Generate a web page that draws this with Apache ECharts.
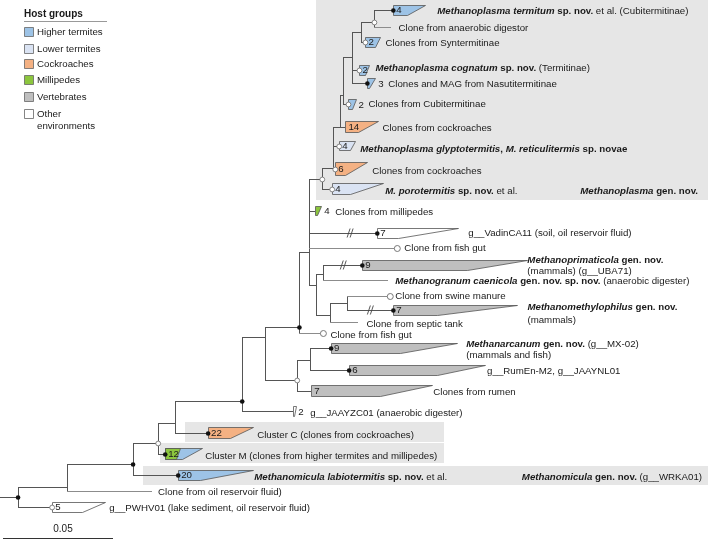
<!DOCTYPE html>
<html><head><meta charset="utf-8">
<script src="https://cdn.jsdelivr.net/npm/echarts@6/dist/echarts.min.js"></script>
<style>html,body{margin:0;padding:0;background:#fff}#c{width:708px;height:541px}</style>
</head><body><div id="c"></div>
<script>
// ================= DATA =================
const hostGroups = ['Higher termites','Lower termites','Cockroaches','Millipedes','Vertebrates','Other\nenvironments'];

// tree nodes: [id, parent, branch length (subst./site), tip-order position]
const treeNodes = [
 ['R', null, 0.0082, 497],
 ['PW','R',0.0155,507],
 ['N1','R',0.0223,487],
 ['oil','N1',0.0386,491],
 ['N2','N1',0.0300,464],
 ['N3','N2',0.0114,443],
 ['MMic','N2',0.0205,475],
 ['N4','N3',0.0077,423],
 ['CM','N3',0.0032,453.5],
 ['N5','N4',0.0305,401],
 ['CC','N4',0.0150,432.5],
 ['N6','N5',0.0105,337],
 ['JZ','N5',0.0232,411],
 ['N7','N6',0.0155,327],
 ['N13','N6',0.0145,380],
 ['N8','N7',0.0045,252],
 ['fish2','N7',0.0109,333],
 ['N14','N13',0.0059,360],
 ['rumen','N13',0.0064,390.5],
 ['Marc','N14',0.0095,348],
 ['RumEn','N14',0.0177,370],
 ['crown','N8',0.0059,179],
 ['mill','N8',0.0027,210.5],
 ['Vadin','N8',0.0309,233],
 ['fish1','N8',0.0400,248],
 ['N9','N8',0.0032,285],
 ['N10','N9',0.0032,274],
 ['N11','N9',0.0064,315],
 ['Mprim','N10',0.0177,265],
 ['Mgran','N10',0.0295,280],
 ['N12','N11',0.0077,303],
 ['septic','N11',0.0127,322],
 ['swine','N12',0.0195,296],
 ['Mmeth','N12',0.0209,310],
 ['E','crown',0.0050,168],
 ['poro','crown',0.0045,188.5],
 ['D','E',0.0032,127],
 ['glypto','E',0.0027,145.5],
 ['cock6','E',0.0009,168.5],
 ['C','D',0.0014,95],
 ['cock14','D',0.0023,126.5],
 ['A','C',0.0041,57],
 ['cubi','C',0.0023,104],
 ['B','A',0.0041,32],
 ['cogn','A',0.0032,70],
 ['nasu','A',0.0068,83],
 ['G','B',0.0059,22],
 ['synt','B',0.0018,42],
 ['term','G',0.0086,10],
 ['anaer','G',0.0073,27]
];

// collapsed clades: [id, host group indices, number of sequences, top pos, bottom pos, longest, shortest]
const collapsed = [
 ['term',[0],4,5,15,0.0145,0.0064],
 ['synt',[0],2,37,47,0.0068,0.0045],
 ['cogn',[0],2,65,75,0.0045,0.0027],
 ['nasu',[0],3,78,88,0.0036,0.0009],
 ['cubi',[0],2,99,109,0.0036,0.0018],
 ['cock14',[2],14,121,132,0.0150,0.0055],
 ['glypto',[1],4,141,150,0.0073,0.0050],
 ['cock6',[2],6,162,175,0.0145,0.0045],
 ['poro',[1],4,183,194,0.0232,0.0082],
 ['mill',[3],4,206,215,0.0027,0.0009],
 ['Vadin',[5],7,228,238,0.0368,0.0095],
 ['Mprim',[4],9,260,270,0.0750,0.0477],
 ['Mmeth',[4],7,305,315,0.0564,0.0200],
 ['Marc',[4],9,343,353,0.0573,0.0314],
 ['RumEn',[4],6,365,375,0.0618,0.0400],
 ['rumen',[4],7,385,396,0.0550,0.0314],
 ['JZ',[5],2,406,416,0.0014,0.0005],
 ['CC',[2],22,427,438,0.0205,0.0100],
 ['CM',[3,0],12,448,459,0.0168,0.0077],
 ['MMic',[0],20,470,480,0.0341,0.0100],
 ['PW',[5],5,502,512,0.0241,0.0136]
];

// node support: strongly supported (filled) and moderately supported (open)
const supportStrong = ['term','nasu','Vadin','Mprim','Mmeth','N7','Marc','RumEn','N5','CC','CM','N2','MMic','R'];
const supportModerate = ['G','synt','cogn','cubi','glypto','cock6','crown','poro','N13','N3','PW'];
const openTips = ['fish1','swine','fish2'];
// shortened branches: [id, fraction along branch]
const breaks = [['Vadin',0.6],['Mprim',0.51],['Mmeth',0.5]];

// tip labels
const tipLabels = [
 ['term','{bi|Methanoplasma termitum}{b| sp. nov.} et al. (Cubitermitinae)'],
 ['anaer','Clone from anaerobic digestor'],
 ['synt','Clones from Syntermitinae'],
 ['cogn','{bi|Methanoplasma cognatum}{b| sp. nov.} (Termitinae)'],
 ['nasu','Clones and MAG from Nasutitermitinae'],
 ['cubi','Clones from Cubitermitinae'],
 ['cock14','Clones from cockroaches'],
 ['glypto','{bi|Methanoplasma glyptotermitis}{b|, }{bi|M. reticulitermis}{b| sp. novae}'],
 ['cock6','Clones from cockroaches'],
 ['poro','{bi|M. porotermitis}{b| sp. nov.} et al.'],
 ['mill','Clones from millipedes'],
 ['Vadin','g__VadinCA11 (soil, oil reservoir fluid)'],
 ['fish1','Clone from fish gut'],
 ['Mprim','{bi|Methanoprimaticola}{b| gen. nov.}\n(mammals) (g__UBA71)'],
 ['Mgran','{bi|Methanogranum caenicola}{b| gen. nov. sp. nov.} (anaerobic digester)'],
 ['swine','Clone from swine manure'],
 ['Mmeth','{bi|Methanomethylophilus}{b| gen. nov.}\n(mammals)'],
 ['septic','Clone from septic tank'],
 ['fish2','Clone from fish gut'],
 ['Marc','{bi|Methanarcanum}{b| gen. nov.} (g__MX-02)\n(mammals and fish)'],
 ['RumEn','g__RumEn-M2, g__JAAYNL01'],
 ['rumen','Clones from rumen'],
 ['JZ','g__JAAYZC01 (anaerobic digester)'],
 ['CC','Cluster C (clones from cockroaches)'],
 ['CM','Cluster M (clones from higher termites and millipedes)'],
 ['MMic','{bi|Methanomicula labiotermitis}{b| sp. nov.} et al.'],
 ['oil','Clone from oil reservoir fluid)'],
 ['PW','g__PWHV01 (lake sediment, oil reservoir fluid)']
];
const genusLabels = [
 ['poro','{bi|Methanoplasma}{b| gen. nov.}'],
 ['MMic','{bi|Methanomicula}{b| gen. nov.} (g__WRKA01)']
];
const scaleBarLength = 0.05;

// ================= LAYOUT / STYLE =================
const hostColors = ['#9dc3e6','#dae3f3','#f4b183','#8cc63e','#bfbfbf','#ffffff'];
const FONT = '"Liberation Sans", Arial, Helvetica, sans-serif';
const FS = 9.7, TXT = '#1a1a1a';
const PXU = 2200; // px per subst./site unit
// label offsets in px: [dx from tip end, dy, lineHeight]
const labelOffset = {term:[12,1],anaer:[8,1],synt:[5,1],cogn:[6,-2],nasu:[13,1],cubi:[12,0],cock14:[4,1.5],
 glypto:[5,3.5],cock6:[5,2.5],poro:[2,2.5],mill:[14,1.5],Vadin:[10,0],fish1:[7,0],Mprim:[0,-5,11.5],Mgran:[7,1.5],
 swine:[5,0],Mmeth:[10,-2.5,13],septic:[8,2],fish2:[7,2],Marc:[9,-4,11.5],RumEn:[2,1],rumen:[1,1.5],JZ:[14,2],
 CC:[4,2.5],CM:[3,2.5],MMic:[1,2],oil:[6,1],PW:[4,1]};
const outsideCount = {nasu:3, cubi:2, mill:3, JZ:2};
const genusRight = {poro:[698,2.5], MMic:[702,2]};
const mixedSplit = {CM:[0.0068,0.0050]};
// grey clade boxes [x0, pos0, x1, pos1] in axis units
const boxes = [[0.1436,0,0.33,200],[0.0841,422,0.2018,442],[0.0727,443,0.2018,463],[0.0650,466,0.33,485]];

// ================= BUILD =================
const byId = {};
treeNodes.forEach(([id,parent,bl,pos])=>{ byId[id]={id,parent,bl,pos,children:[]}; });
treeNodes.forEach(([id,parent])=>{ if(parent) byId[parent].children.push(byId[id]); });
function cum(n){ if(n.x!==undefined) return n.x; n.x=(n.parent?cum(byId[n.parent]):0)+n.bl; return n.x; }
treeNodes.forEach(r=>cum(byId[r[0]]));
const colById = {}; collapsed.forEach(c=>colById[c[0]]={hosts:c[1],count:c[2],top:c[3],bot:c[4],lng:c[5],sht:c[6]});
function tipEnd(id){ const n=byId[id]; return n.x + (colById[id]?colById[id].lng:0); }

const S = v => Math.round(v)+0.5;
function richSt(lh){ return {
  bi:{fontStyle:'italic',fontWeight:'bold',fontSize:FS,fontFamily:FONT,fill:TXT,lineHeight:lh},
  b:{fontWeight:'bold',fontSize:FS,fontFamily:FONT,fill:TXT,lineHeight:lh}}; }
function txt(x,y,text,opt){ opt=opt||{}; const lh=opt.lh||12; return {type:'text',x:x,y:y,silent:true,style:{text:text,
  fontSize:opt.fs||FS,fontFamily:FONT,fontWeight:opt.fw||'normal',fill:opt.fill||TXT,align:opt.align||'left',
  verticalAlign:opt.va||'middle',lineHeight:lh,rich:richSt(lh)}}; }

const chart = echarts.init(document.getElementById('c'),null,{renderer:'canvas'});
const idx = arr => arr.map((a,i)=>[i,0]);

const series = [];
// boxes
series.push({type:'custom',coordinateSystem:'cartesian2d',silent:true,clip:false,z:1,data:idx(boxes),
 renderItem:(p,api)=>{ const b=boxes[p.dataIndex]; const a=api.coord([b[0],b[1]]), c=api.coord([b[2],b[3]]);
   return {type:'rect',shape:{x:Math.round(a[0]),y:Math.round(a[1]),width:Math.round(c[0]-a[0]),height:Math.round(c[1]-a[1])},style:{fill:'#e6e6e6'}}; }});
// branches
series.push({type:'custom',coordinateSystem:'cartesian2d',silent:true,clip:false,z:2,data:idx(treeNodes),
 renderItem:(p,api)=>{ const n=byId[treeNodes[p.dataIndex][0]];
   const x0=n.parent?byId[n.parent].x:0; const a=api.coord([x0,n.pos]), b=api.coord([n.x,n.pos]);
   const single = !n.children.length && !colById[n.id];
   const col = single ? '#8c8c8c' : '#555';
   const ch=[{type:'line',shape:{x1:Math.round(a[0]),y1:S(a[1]),x2:Math.round(b[0]),y2:S(a[1])},style:{stroke:col,lineWidth:1}}];
   if(n.children.length){ const ys=n.children.map(c=>c.pos).concat([n.pos]);
     const t=api.coord([n.x,Math.min(...ys)]), u=api.coord([n.x,Math.max(...ys)]);
     ch.push({type:'line',shape:{x1:S(t[0]),y1:Math.round(t[1]),x2:S(t[0]),y2:Math.round(u[1])+1},style:{stroke:'#555',lineWidth:1}}); }
   return {type:'group',children:ch}; }});
// collapsed clades
series.push({type:'custom',coordinateSystem:'cartesian2d',silent:true,clip:false,z:3,data:idx(collapsed),
 renderItem:(p,api)=>{ const c=collapsed[p.dataIndex]; const id=c[0], n=byId[id], k=colById[id];
   const P=(x,y)=>{const q=api.coord([x,y]);return [S(q[0]),S(q[1])];};
   const pts=[P(n.x,k.top),P(n.x+k.lng,k.top),P(n.x+k.sht,k.bot),P(n.x,k.bot)];
   const ch=[{type:'polygon',shape:{points:pts},style:{fill:hostColors[k.hosts[k.hosts.length-1]],stroke:'#555',lineWidth:0.8}}];
   if(k.hosts.length>1){ const sp=mixedSplit[id];
     ch.push({type:'polygon',shape:{points:[P(n.x,k.top),P(n.x+sp[0],k.top),P(n.x+sp[1],k.bot),P(n.x,k.bot)]},style:{fill:hostColors[k.hosts[0]],stroke:'#555',lineWidth:0.8}}); }
   const s=api.coord([n.x,(k.top+k.bot)/2]);
   if(outsideCount[id]!==undefined){ const e=api.coord([n.x+k.lng,0]); ch.push(txt(e[0]+outsideCount[id],s[1]+1,String(k.count))); }
   else ch.push(txt(s[0]+3,s[1]+0.5,String(k.count)));
   return {type:'group',children:ch}; }});
// break marks
series.push({type:'custom',coordinateSystem:'cartesian2d',silent:true,clip:false,z:4,data:idx(breaks),
 renderItem:(p,api)=>{ const [id,f]=breaks[p.dataIndex]; const n=byId[id], x0=byId[n.parent].x;
   const q=api.coord([x0+f*(n.x-x0),n.pos]); const ch=[];
   [-1.5,1.5].forEach(o=>ch.push({type:'line',shape:{x1:q[0]+o-1.5,y1:q[1]+4.5,x2:q[0]+o+1.5,y2:q[1]-4.5},style:{stroke:'#444',lineWidth:0.9}}));
   return {type:'group',children:ch}; }});
// support markers
const markers = supportStrong.map(id=>[id,1]).concat(supportModerate.map(id=>[id,0])).concat(openTips.map(id=>[id,2]));
series.push({type:'custom',coordinateSystem:'cartesian2d',silent:true,clip:false,z:5,data:idx(markers),
 renderItem:(p,api)=>{ const [id,t]=markers[p.dataIndex]; const n=byId[id]; const q=api.coord([n.x,n.pos]);
   if(t===1) return {type:'circle',shape:{cx:q[0],cy:S(q[1]),r:2.3},style:{fill:'#111'}};
   return {type:'circle',shape:{cx:q[0],cy:S(q[1]),r:t===2?3:2.4},style:{fill:'#fff',stroke:'#777',lineWidth:t===2?1:0.9}}; }});
// tip labels
series.push({type:'custom',coordinateSystem:'cartesian2d',silent:true,clip:false,z:6,data:idx(tipLabels),
 renderItem:(p,api)=>{ const [id,t]=tipLabels[p.dataIndex]; const n=byId[id]; const o=labelOffset[id]||[4,0];
   const q=api.coord([tipEnd(id),n.pos]); const lh=o[2]||12;
   if(t.indexOf('\n')>=0) return txt(q[0]+o[0],q[1]+o[1]-lh/2,t,{va:'top',lh:lh});
   return txt(q[0]+o[0],q[1]+o[1],t); }});
// genus labels
series.push({type:'custom',coordinateSystem:'cartesian2d',silent:true,clip:false,z:6,data:idx(genusLabels),
 renderItem:(p,api)=>{ const [id,t]=genusLabels[p.dataIndex]; const n=byId[id]; const g=genusRight[id];
   const q=api.coord([0,n.pos]); return txt(g[0],q[1]+g[1],t,{align:'right'}); }});
// scale bar
series.push({type:'custom',coordinateSystem:'cartesian2d',silent:true,clip:false,z:6,data:[[0,0]],
 renderItem:(p,api)=>{ const a=api.coord([3/PXU,538]), b=api.coord([3/PXU+scaleBarLength,538]);
   return {type:'group',children:[{type:'line',shape:{x1:a[0],y1:S(a[1]),x2:b[0],y2:S(a[1])},style:{stroke:'#333',lineWidth:1}},
     txt((a[0]+b[0])/2+5,529,String(scaleBarLength),{align:'center',fs:10})]}; }});

// legend (graphic)
const legendItems = [];
legendItems.push({type:'text',x:24,y:14,style:{text:'Host groups',font:'bold 10px '+FONT,fill:TXT,verticalAlign:'middle'}});
legendItems.push({type:'line',shape:{x1:24,y1:21.5,x2:107,y2:21.5},style:{stroke:'#999',lineWidth:1}});
const legY=[32,49,64,80,97,114];
hostGroups.forEach((h,i)=>{
  legendItems.push({type:'rect',shape:{x:24.5,y:legY[i]-4.5,width:9,height:9},style:{fill:hostColors[i],stroke:'#666',lineWidth:0.8}});
  legendItems.push({type:'text',x:37,y:legY[i]-6,style:{text:h,font:FS+'px '+FONT,fill:TXT,verticalAlign:'top',lineHeight:12}});
});

chart.setOption({
  animation:false,
  grid:{left:0,right:0,top:0,bottom:0,containLabel:false},
  xAxis:{type:'value',min:0,max:708/PXU,show:false},
  yAxis:{type:'value',min:0,max:541,inverse:true,show:false},
  graphic:legendItems,
  series:series
});
</script></body></html>
